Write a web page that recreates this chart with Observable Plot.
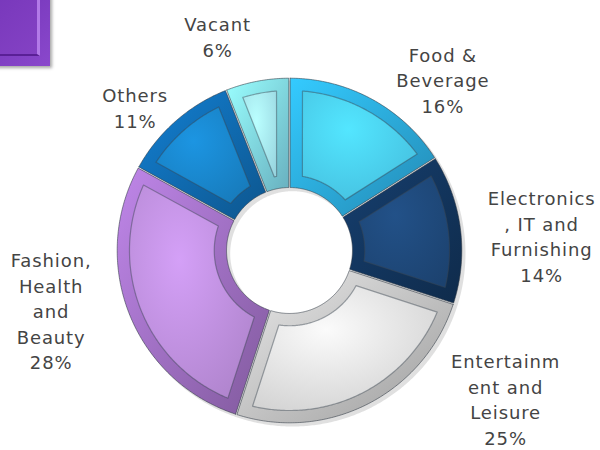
<!DOCTYPE html>
<html><head><meta charset="utf-8">
<script src="https://cdn.jsdelivr.net/npm/d3@7"></script>
<script src="https://cdn.jsdelivr.net/npm/@observablehq/plot@0.6"></script>
<style>
body{margin:0;background:#fff;}
#wrap{position:relative;width:600px;height:450px;overflow:hidden;}
#badge{position:absolute;left:-30px;top:-30px;width:80px;height:96px;background:linear-gradient(135deg,#6a2cb0,#8a48cc);box-shadow:2px 2px 3px rgba(0,0,0,.35);}
#badge div{position:absolute;left:8px;top:8px;right:10px;bottom:10px;background:linear-gradient(135deg,#7434b8,#8442c4);border-right:3px solid #b27ae8;border-bottom:2px solid #5a2096;}
#chart{position:absolute;left:0;top:0;}
#chart text{letter-spacing:0.9px;}
</style></head>
<body><div id="wrap"><div id="badge"><div></div></div><div id="chart"></div></div>
<script>
const categories = ["Food & Beverage","Electronics, IT and Furnishing","Entertainment and Leisure","Fashion, Health and Beauty","Others","Vacant"];
const shares = [16,14,25,28,11,6];
const labelLines = ["Food &\nBeverage","Electronics\n, IT and\nFurnishing","Entertainm\nent and\nLeisure","Fashion,\nHealth\nand\nBeauty","Others","Vacant"];
const edgeColors = ["#2aa4d6","#12335a","#bcbcbc","#9a6cbc","#0f67aa","#7cd2e4"];
const faceColors = ["#4cd2f6","#1f4a7c","#e6e6e6","#c292e2","#1a88cf","#aaeef9"];

// label placement (angle clockwise from top in degrees, radius in ring units)
const labelAt = [[41.8,1.33],[86.6,1.46],[124.4,1.514],[256,1.42],[313,1.22],[341.5,1.31]];

const R0 = 0.36, R1 = 1.0;
const total = d3.sum(shares);
let acc = 0;
const slices = shares.map((v,i)=>{const a0=acc/total*2*Math.PI; acc+=v; return {i, name:categories[i], a0, a1:acc/total*2*Math.PI};});

function ring(a0,a1,r0,r1,ins){
  const ro=r1-ins, ri=r0+ins;
  const b0=a0+ins/ro, b1=a1-ins/ro, c0=a0+ins/ri, c1=a1-ins/ri;
  const pts=[]; const n=Math.max(2,Math.ceil((b1-b0)/0.01));
  for(let k=0;k<=n;k++){const a=b0+(b1-b0)*k/n; pts.push({x:ro*Math.sin(a),y:ro*Math.cos(a)});}
  const m=Math.max(2,Math.ceil((c1-c0)/0.01));
  for(let k=0;k<=m;k++){const a=c1-(c1-c0)*k/m; pts.push({x:ri*Math.sin(a),y:ri*Math.cos(a)});}
  pts.push(pts[0]);
  return pts;
}

const marks = [];
// shadow
marks.push(Plot.line(ring(0,2*Math.PI-1e-6,R0,R1,0),{x:"x",y:"y",fill:"rgba(0,0,0,0.12)",stroke:"none",dx:3,dy:3}));
slices.forEach(s=>{
  marks.push(Plot.line(ring(s.a0,s.a1,R0,R1,0.004),{x:"x",y:"y",fill:`url(#edge${s.i})`,stroke:"#2b3440",strokeOpacity:0.55,strokeWidth:1}));
  marks.push(Plot.line(ring(s.a0,s.a1,R0,R1,0.075),{x:"x",y:"y",fill:`url(#face${s.i})`,stroke:"#3a4450",strokeOpacity:0.45,strokeWidth:1.2}));
});
const labels = slices.map((s,i)=>{const a=labelAt[i][0]*Math.PI/180, r=labelAt[i][1]; return {x:r*Math.sin(a), y:r*Math.cos(a), text:labelLines[i]+"\n"+shares[i]+"%"};});
marks.push(Plot.text(labels,{x:"x",y:"y",text:"text",lineAnchor:"middle",textAnchor:"middle",lineHeight:1.42,fontSize:18,fill:"#444",fontFamily:"DejaVu Sans"}));

const plot = Plot.plot({
  width:600,height:450,
  marginLeft:116,marginRight:138,marginTop:77,marginBottom:27,
  x:{domain:[-1,1],axis:null},y:{domain:[-1,1],axis:null},
  style:{background:"transparent",overflow:"visible"},
  marks
});
const defs = d3.select(plot).insert("defs",":first-child");
slices.forEach(s=>{
  const c=d3.color(edgeColors[s.i]), f=d3.color(faceColors[s.i]);
  const ge=defs.append("linearGradient").attr("id","edge"+s.i).attr("x1","0").attr("y1","0").attr("x2","1").attr("y2","1");
  ge.append("stop").attr("offset","0").attr("stop-color",c.brighter(0.6));
  ge.append("stop").attr("offset","1").attr("stop-color",c.darker(0.5));
  const gf=defs.append("radialGradient").attr("id","face"+s.i).attr("cx","0.4").attr("cy","0.35").attr("r","0.8");
  gf.append("stop").attr("offset","0").attr("stop-color",f.brighter(0.25));
  gf.append("stop").attr("offset","1").attr("stop-color",f.darker(0.3));
});
document.getElementById("chart").appendChild(plot);
</script></body></html>
